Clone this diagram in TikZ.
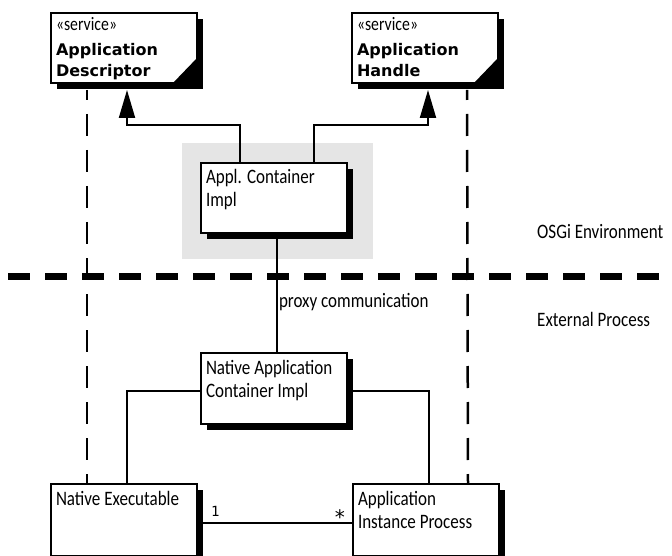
\documentclass[tikz,border=0pt]{standalone}
\usepackage{fontspec}
\setmainfont{Carlito}[FakeStretch=0.83]
\newfontfamily\titlefont{DejaVu Sans}
\newfontfamily\multfont{DejaVu Sans Mono}
\usepackage{tikz}
\usetikzlibrary{arrows.meta, positioning, shadows, backgrounds}

\begin{document}
\begin{tikzpicture}[
  x=1pt, y=-1pt,
  cls/.style={draw, line width=2pt, fill=white, anchor=north west, align=left,
    text width=136pt, inner xsep=5pt, inner ysep=0pt,
    text height=20pt, text depth=50pt, font=\fontsize{20.5}{23}\selectfont,
    execute at begin node={\spaceskip=0pt\xspaceskip=0pt},
    drop shadow={shadow xshift=6pt, shadow yshift=-6pt, fill=black, opacity=1}},
  svc/.style={cls, text height=18pt, text depth=52pt, font=\fontsize{16}{21}\selectfont},
  inherit/.style={line width=2pt, -{Triangle[width=16pt, length=28pt]}, shorten >=6pt},
  assoc/.style={line width=2pt},
  bound/.style={line width=2.5pt, dash pattern=on 22pt off 14pt, dash phase=12pt},
  envline/.style={line width=7pt, dash pattern=on 22pt off 15pt, dash phase=29pt},
  lbl/.style={font=\fontsize{20.5}{23}\selectfont, anchor=base west, inner sep=1pt},
  mult/.style={font=\multfont\fontsize{14}{14}\selectfont, inner sep=0pt}
]
  \useasboundingbox (0,0) rectangle (672,556);

  % services
  \node[svc] (desc) at (50,12) {{\fontsize{19}{21}\selectfont «service»}\\[4pt]
    {\titlefont\bfseries Application\\ Descriptor}};
  \node[svc] (handle) at (351,12) {{\fontsize{19}{21}\selectfont «service»}\\[4pt]
    {\titlefont\bfseries Application\\ Handle}};
  \fill (desc.south east) -- ++(-26,0) -- ++(26,-27) -- cycle;
  \fill (handle.south east) -- ++(-26,0) -- ++(26,-27) -- cycle;

  % classes
  \node[cls, text height=21pt, text depth=49pt] (impl) at (200,162) {Appl. Container\\ Impl};
  \node[cls, text height=21pt, text depth=50pt] (native) at (200,352) {Native Application\\ Container Impl};
  \node[cls, text height=21pt, text depth=51pt] (exec) at (50,483) {Native Executable};
  \node[cls, text height=21pt, text depth=51pt] (proc) at (352,483) {Application\\ Instance Process};

  \begin{scope}[on background layer]
    \fill[black!10] ([shift={(-18,-19)}]impl.north west) rectangle ([shift={(25,25)}]impl.south east);
  \end{scope}

  % environment borders
  \draw[bound] ([shift={(37,6)}]desc.south west) -- ([xshift=37pt]exec.north west);
  \draw[bound] ([shift={(-32,6)}]handle.south east) -- ([xshift=-32pt]proc.north east);
  \draw[envline] (0,276) -- (672,276);
  \node[lbl] (osgi) at (536,239) {OSGi Environment};
  \node[lbl] (ext) at (536,326) {External Process};

  % relations
  \draw[inherit] ([xshift=-34pt]impl.north) -- ++(0,-37) -| ([xshift=3pt]desc.south);
  \draw[inherit] ([xshift=40pt]impl.north) -- ++(0,-37) -| ([xshift=3pt]handle.south);
  \draw[assoc] ([xshift=3pt]impl.south) -- ([xshift=3pt]native.north)
    node[lbl, pos=0.62] (proxy) {proxy communication};
  \draw[assoc] ([yshift=-2pt]native.west) -| ([xshift=3pt]exec.north);
  \draw[assoc] ([yshift=-2pt]native.east) -| ([xshift=3pt]proc.north);
  \draw[assoc] ([yshift=-3pt]exec.east) -- ([yshift=-3pt]proc.west)
    node[mult, pos=0, anchor=base west, xshift=12pt, yshift=7pt] (one) {1}
    node[mult, pos=1, anchor=base east, xshift=-5pt, yshift=-1pt, font=\multfont\fontsize{20}{20}\selectfont] (many) {*};
\end{tikzpicture}
\end{document}
